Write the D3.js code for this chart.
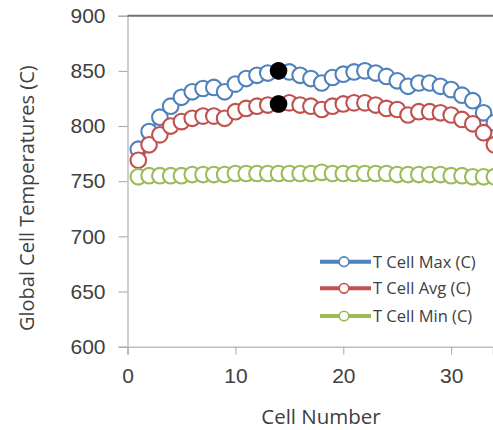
<!DOCTYPE html>
<html>
<head>
<meta charset="utf-8">
<script src="https://cdn.jsdelivr.net/npm/d3@7/dist/d3.min.js"></script>
<style>
  html, body { margin: 0; padding: 0; background: #fff; }
  svg { display: block; font-family: "Open Sans", "Noto Sans", sans-serif; }
</style>
</head>
<body>
<svg id="chart" width="493" height="430"></svg>
<script>
// Cell numbers along the string
const cells = d3.range(1, 35);

// Per-cell temperatures (°C)
const tMax = [779, 795, 808, 818, 826, 831, 834, 835, 831, 838,
              843, 846, 848, 850, 849, 846, 843, 839, 844, 847,
              849, 850, 848, 845, 841, 836, 839, 839, 836, 833,
              828, 823, 812, 803];
const tAvg = [769, 783, 792, 800, 804, 807, 809, 809, 807, 813,
              816, 818, 819, 820, 821, 819, 818, 815, 818, 820,
              821, 821, 819, 816, 815, 810, 813, 813, 812, 810,
              806, 802, 794, 783];
const tMin = [754, 755, 755, 755, 755, 756, 756, 756, 756, 757,
              757, 757, 757, 757, 757, 757, 757, 758, 757, 757,
              757, 757, 757, 757, 756, 756, 756, 756, 756, 755,
              755, 754, 754, 754];

// Highlighted hottest cell
const highlightCell = 14;

const seriesNames = ["T Cell Max (C)", "T Cell Avg (C)", "T Cell Min (C)"];
const seriesColors = ["#4F81BD", "#C0504D", "#9BBB59"];
const seriesValues = [tMax, tAvg, tMin];

const yTicks = [600, 650, 700, 750, 800, 850, 900];
const xTicks = [0, 10, 20, 30];

const W = 493, H = 430;
const plotLeft = 127.5, plotTop = 15.7, plotBottom = 346.7;
const pxPerCell = 10.79;
const plotRight = W;

const svg = d3.select("#chart");

const x = d3.scaleLinear()
  .domain([0, (plotRight - plotLeft) / pxPerCell])
  .range([plotLeft, plotRight]);
const y = d3.scaleLinear().domain([600, 900]).range([plotBottom, plotTop]);

const textColor = "#404040";

svg.append("defs").append("clipPath").attr("id", "plotClip")
  .append("rect").attr("x", 0).attr("y", 0).attr("width", W).attr("height", H);

// Y axis
const yAxis = svg.append("g")
  .attr("transform", `translate(${plotLeft},0)`)
  .call(d3.axisLeft(y).tickValues(yTicks).tickSize(9).tickPadding(13).tickFormat(d3.format("d")));
yAxis.select(".domain").attr("stroke", "#BFBFBF").attr("stroke-width", 1.5);
yAxis.selectAll(".tick line").attr("stroke", "#A6A6A6").attr("stroke-width", 1);
yAxis.selectAll(".tick text").attr("fill", textColor).style("font-size", "21px");

// X axis
const xAxis = svg.append("g")
  .attr("transform", `translate(0,${plotBottom})`)
  .call(d3.axisBottom(x).tickValues(xTicks).tickSize(8).tickPadding(13).tickFormat(d3.format("d")));
xAxis.select(".domain").attr("stroke", "#BFBFBF").attr("stroke-width", 1.5);
xAxis.selectAll(".tick line").attr("stroke", "#A6A6A6").attr("stroke-width", 1);
xAxis.selectAll(".tick text").attr("fill", textColor).style("font-size", "21px");

// Top border of the plot area
svg.append("line")
  .attr("x1", plotLeft).attr("x2", W)
  .attr("y1", y(900)).attr("y2", y(900))
  .attr("stroke", "#6E6E6E").attr("stroke-width", 2);

// Axis titles
svg.append("text")
  .attr("x", 321).attr("y", 424)
  .attr("text-anchor", "middle")
  .attr("fill", textColor)
  .style("font-size", "20.5px")
  .text("Cell Number");

svg.append("text")
  .attr("transform", `translate(34,${(plotTop + plotBottom) / 2 + 17}) rotate(-90)`)
  .attr("text-anchor", "middle")
  .attr("fill", textColor)
  .style("font-size", "20px")
  .text("Global Cell Temperatures (C)");

// Series
const plot = svg.append("g").attr("clip-path", "url(#plotClip)");
const line = d3.line().x((d, i) => x(cells[i])).y(d => y(d));

seriesValues.forEach((vals, s) => {
  const g = plot.append("g");
  g.append("path")
    .datum(vals)
    .attr("d", line)
    .attr("fill", "none")
    .attr("stroke", seriesColors[s])
    .attr("stroke-width", 2.5);
  g.selectAll("circle")
    .data(vals)
    .join("circle")
    .attr("cx", (d, i) => x(cells[i]))
    .attr("cy", d => y(d))
    .attr("r", 7.8)
    .attr("fill", "#fff")
    .attr("stroke", seriesColors[s])
    .attr("stroke-width", 2.1);
});

// Highlighted points on the max and average curves
const hi = cells.indexOf(highlightCell);
plot.selectAll("circle.hot")
  .data([tMax[hi], tAvg[hi]])
  .join("circle")
  .attr("class", "hot")
  .attr("cx", x(highlightCell))
  .attr("cy", d => y(d))
  .attr("r", 8.8)
  .attr("fill", "#000");

// Legend
const legend = svg.append("g");
const legendRows = [261.7, 288.3, 316];
seriesNames.forEach((name, s) => {
  const g = legend.append("g").attr("transform", `translate(0,${legendRows[s]})`);
  g.append("line")
    .attr("x1", 320).attr("x2", 371)
    .attr("stroke", seriesColors[s]).attr("stroke-width", 4);
  g.append("circle")
    .attr("cx", 344).attr("cy", 0).attr("r", 4.8)
    .attr("fill", "#fff").attr("stroke", seriesColors[s]).attr("stroke-width", 1.6);
  g.append("text")
    .attr("x", 373).attr("y", 6)
    .attr("fill", textColor)
    .style("font-size", "16.5px")
    .text(name);
});
</script>
</body>
</html>
